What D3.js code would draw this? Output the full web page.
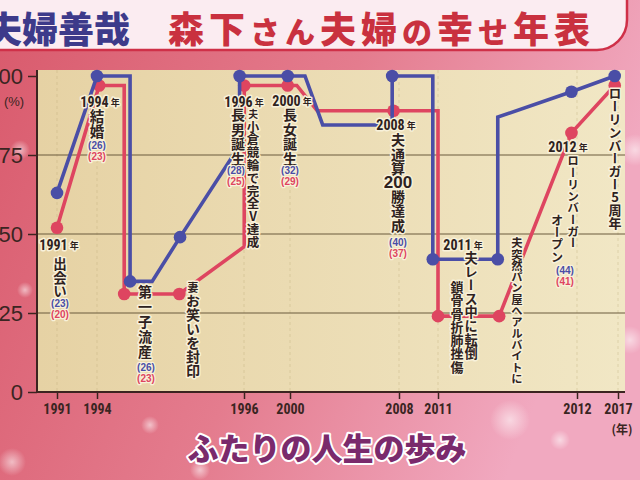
<!DOCTYPE html>
<html><head><meta charset="utf-8">
<script src="https://cdn.jsdelivr.net/npm/d3@7"></script>
<style>html,body{margin:0;padding:0;overflow:hidden;background:#e58a98}</style>
</head><body>
<script>
// ---------- data ----------
const yearTicks = [1991, 1994, 1996, 2000, 2008, 2011, 2012, 2017];
const yTicks = [0, 25, 50, 75, 100];

// 夫 (husband) line vertices: x in (fractional) years, y in %
const husbandX = [1991, 1994, 1994.45, 1994.45, 1994.75, 1995.13, 1995.94, 1995.94, 1999.8, 2001.1, 2002.4, 2007.5, 2007.5, 2010.6, 2010.6, 2011.43, 2011.43, 2011.96, 2016.6];
const husbandY = [63, 100, 100, 35, 35, 49, 78, 100, 100, 100, 84.5, 84.5, 100, 100, 42, 42, 87, 95, 100];
const husbandEvent = [1, 1, 0, 1, 0, 1, 0, 1, 1, 0, 0, 0, 1, 0, 1, 1, 0, 1, 1];

// 妻 (wife) line vertices
const wifeX = [1991, 1994.03, 1994.37, 1994.37, 1995.12, 1996.02, 1996.02, 1999.8, 2000.5, 2002.0, 2007.6, 2011.0, 2011.0, 2011.44, 2011.96, 2016.6];
const wifeY = [52, 97, 97, 31, 31, 46, 97, 97, 97, 89, 89, 89, 24, 24, 82, 97];
const wifeEvent = [1, 1, 0, 1, 1, 0, 1, 1, 0, 0, 1, 0, 1, 1, 1, 1];

const yearLabels = ["1991", "1994", "1996", "2000", "2008", "2011", "2012"];
const columnTexts = ["出会い", "結婚", "第一子流産", "妻お笑いを封印", "長男誕生", "夫小倉競輪で完全V達成", "長女誕生",
  "夫通算200勝達成", "夫レース中に転倒", "鎖骨骨折肺挫傷", "夫突然パン屋へアルバイトに", "ローリンバーガー", "オープン", "ローリンバーガー5周年"];
const husbandAges = ["(23)", "(26)", "(26)", "(28)", "(32)", "(40)", "(44)"];
const wifeAges = ["(20)", "(23)", "(23)", "(25)", "(29)", "(37)", "(41)"];

const titleLeft = "夫婦善哉";
const titleRight = ["森下", "さん", "夫婦", "の", "幸", "せ", "年表"];
const bottomTitle = "ふたりの人生の歩み";

// ---------- layout ----------
const yearLabelLayout = [
  {year: 1991, dx: 2, py: 245}, {year: 1994, dx: 3, py: 102}, {year: 1996, dx: 0, py: 102},
  {year: 2000, dx: 2, py: 101}, {year: 2008, dx: -3, py: 125}, {year: 2011, dx: 25, py: 245},
  {year: 2012, dx: -9, py: 147}];
const columnLayout = [
  {year: 1991, dx: 3, py: 264, step: 13.5, size: 13.5},
  {year: 1994, dx: 0, py: 116, step: 15, size: 14.5},
  {year: 1994, dx: 48, py: 292, step: 15, size: 14},
  {year: 1996, dx: -51, py: 287, step: 14, size: 14, smallFirst: true},
  {year: 1996, dx: -6, py: 115, step: 14.5, size: 14},
  {year: 1996, dx: 9, py: 114, step: 12.8, size: 12.5, smallFirst: true},
  {year: 2000, dx: 0, py: 115, step: 14.5, size: 14},
  {year: 2008, dx: -1, py: 140, step: 14.2, size: 14},
  {year: 2011, dx: 33, py: 258, step: 13.6, size: 13.2},
  {year: 2011, dx: 19, py: 287, step: 13.3, size: 13},
  {year: 2011, dx: 79, py: 243, step: 11.3, size: 11.3},
  {year: 2012, dx: -4, py: 161, step: 11.7, size: 11.7},
  {year: 2012, dx: -20, py: 220, step: 12.3, size: 12.2},
  {year: 2017, dx: -3, py: 93, step: 13, size: 13}];
const ageLayout = [
  {year: 1991, dx: 3, py: 303}, {year: 1994, dx: 0, py: 145}, {year: 1994, dx: 49, py: 367},
  {year: 1996, dx: -8, py: 170}, {year: 2000, dx: 0, py: 170}, {year: 2008, dx: -1, py: 242},
  {year: 2012, dx: -12, py: 270}];

const W = 640, H = 480;
const plotL = 37, plotR = 625, plotT = 70, plotB = 392;
const BLUE = "#4a4ea6", RED = "#de4560";
const JP = "'Noto Sans CJK JP','Noto Sans CJK SC',sans-serif";
const NUM = "'Liberation Sans Narrow','Roboto Condensed','Liberation Sans',sans-serif";
const HALO = "#f8f1da";

const svg = d3.select("body").append("svg").attr("width", W).attr("height", H);
const defs = svg.append("defs");

const bg = defs.append("linearGradient").attr("id", "bg").attr("x1", 0).attr("y1", 0).attr("x2", 1).attr("y2", 0.3);
bg.append("stop").attr("offset", 0).attr("stop-color", "#d95a6c");
bg.append("stop").attr("offset", 0.55).attr("stop-color", "#e47c8e");
bg.append("stop").attr("offset", 1).attr("stop-color", "#f1a9c0");
const pg = defs.append("linearGradient").attr("id", "pg").attr("x1", 0).attr("y1", 0).attr("x2", 1).attr("y2", 0);
pg.append("stop").attr("offset", 0).attr("stop-color", "#e6d2a4");
pg.append("stop").attr("offset", 1).attr("stop-color", "#f1e7c5");
const glow = defs.append("radialGradient").attr("id", "glow");
glow.append("stop").attr("offset", 0).attr("stop-color", "#fff").attr("stop-opacity", 0.55);
glow.append("stop").attr("offset", 1).attr("stop-color", "#fff").attr("stop-opacity", 0);

svg.append("rect").attr("width", W).attr("height", H).attr("fill", "url(#bg)");
// soft bokeh (decoration)
[[20, 150, 10], [25, 290, 8], [12, 462, 14], [150, 425, 9], [130, 30, 18], [300, 20, 14], [510, 420, 20], [560, 440, 10], [635, 150, 16], [630, 340, 14], [200, 470, 10]]
  .forEach(([cx, cy, r]) => svg.append("circle").attr("cx", cx).attr("cy", cy).attr("r", r).attr("fill", "url(#glow)"));

// ---------- title banner ----------
svg.append("rect").attr("x", -30).attr("y", -40).attr("width", 657).attr("height", 90).attr("rx", 30)
  .attr("fill", "#fbecf1").attr("stroke", "#cf3048").attr("stroke-width", 2.5);
svg.append("text").attr("x", -14).attr("y", 43).attr("font-family", JP).attr("font-weight", 900)
  .attr("font-size", 36).attr("fill", "#3d3a8a").text(titleLeft);
const tr = svg.append("text").attr("x", 168).attr("y", 43).attr("font-family", JP).attr("font-weight", 900)
  .attr("fill", "#c9313f").attr("letter-spacing", 5);
titleRight.forEach(s => tr.append("tspan").attr("font-size", /[ぁ-ん]/.test(s) ? 30 : 36).text(s));

// ---------- scales ----------
const x = d3.scaleLinear().domain(yearTicks).range([57, 97, 244, 290, 399, 438, 577, 618]);
const y = d3.scaleLinear().domain([0, 100]).range([plotB, 76]);

// plot area
svg.append("rect").attr("x", plotL).attr("y", plotT).attr("width", plotR - plotL).attr("height", plotB - plotT).attr("fill", "url(#pg)");
// faint vertical guides
svg.append("g").selectAll("line").data(yearTicks).join("line")
  .attr("x1", d => x(d)).attr("x2", d => x(d)).attr("y1", plotT).attr("y2", plotB)
  .attr("stroke", "#b8a574").attr("stroke-opacity", 0.35).attr("stroke-dasharray", "3,3");
// horizontal grid
svg.append("g").selectAll("line").data(yTicks.filter(d => d > 0 && d < 100)).join("line")
  .attr("x1", plotL).attr("x2", plotR).attr("y1", d => y(d)).attr("y2", d => y(d))
  .attr("stroke", "#6b5b3c").attr("stroke-width", 1);

// axes
const yAxis = svg.append("g").attr("transform", `translate(${plotL},0)`)
  .call(d3.axisLeft(y).tickValues(yTicks).tickSize(9).tickPadding(5));
yAxis.select(".domain").remove();
yAxis.selectAll("line").attr("stroke", "#3c2420").attr("stroke-width", 1.5);
yAxis.selectAll("text").attr("font-family", "'Liberation Sans',Arial,sans-serif").attr("font-size", 22)
  .attr("fill", "#3a2522").attr("font-weight", 500);
svg.append("text").attr("x", 14).attr("y", 101).attr("text-anchor", "middle").attr("dominant-baseline", "central")
  .attr("font-family", "'Liberation Sans',sans-serif").attr("font-size", 13).attr("fill", "#3a2522").text("(%)");

const xAxis = svg.append("g").attr("transform", `translate(0,${plotB})`)
  .call(d3.axisBottom(x).tickValues(yearTicks).tickFormat(d3.format("d")).tickSize(7).tickPadding(5));
xAxis.select(".domain").remove();
xAxis.selectAll("line").attr("stroke", "#3c2420").attr("stroke-width", 1.5);
xAxis.selectAll("text").attr("font-family", NUM).attr("font-size", 14).attr("font-weight", 700)
  .attr("fill", "#3a2522").attr("font-stretch", "condensed");
svg.append("text").attr("x", 622).attr("y", 428).attr("text-anchor", "middle").attr("dominant-baseline", "central")
  .attr("font-family", JP).attr("font-size", 12).attr("font-weight", 700).attr("fill", "#3a2522").text("(年)");

// axis lines
svg.append("line").attr("x1", plotL).attr("x2", plotL).attr("y1", plotT).attr("y2", plotB + 1).attr("stroke", "#3c2420").attr("stroke-width", 2);
svg.append("line").attr("x1", plotL).attr("x2", plotR).attr("y1", plotB).attr("y2", plotB).attr("stroke", "#3c2420").attr("stroke-width", 2);

// ---------- series ----------
const husband = husbandX.map((v, i) => ({x: v, y: husbandY[i], e: husbandEvent[i]}));
const wife = wifeX.map((v, i) => ({x: v, y: wifeY[i], e: wifeEvent[i]}));
const line = d3.line().x(d => x(d.x)).y(d => y(d.y));

[[wife, RED], [husband, BLUE]].forEach(([data, col]) => {
  svg.append("path").datum(data).attr("d", line).attr("fill", "none").attr("stroke", col)
    .attr("stroke-width", 3.6).attr("stroke-linejoin", "miter");
  svg.append("g").selectAll("circle").data(data.filter(d => d.e)).join("circle")
    .attr("cx", d => x(d.x)).attr("cy", d => y(d.y)).attr("r", 6.3).attr("fill", col);
});

// ---------- annotations ----------
const ann = svg.append("g");
function halo(sel, w = 3) {
  return sel.attr("stroke", HALO).attr("stroke-width", w).attr("stroke-linejoin", "round").attr("paint-order", "stroke");
}
// year labels
yearLabelLayout.forEach((L, i) => {
  const t = ann.append("text").attr("x", x(L.year) + L.dx).attr("y", L.py)
    .attr("text-anchor", "middle").attr("dominant-baseline", "central").attr("fill", "#2e2220");
  halo(t);
  t.append("tspan").attr("font-family", NUM).attr("font-weight", 700).attr("font-size", 14)
    .attr("font-stretch", "condensed").text(yearLabels[i]);
  t.append("tspan").attr("font-family", JP).attr("font-weight", 700).attr("font-size", 9).attr("dx", 2).text("年");
});
// vertical (tategaki) columns
columnLayout.forEach((L, i) => {
  let chars = Array.from(columnTexts[i]);
  const cx = x(L.year) + L.dx;
  let yc = L.py;  // centre of current character cell
  if (L.smallFirst) {
    halo(ann.append("text").attr("x", cx).attr("y", yc).attr("text-anchor", "middle").attr("dominant-baseline", "central")
      .attr("font-family", JP).attr("font-weight", 700).attr("font-size", L.size * 0.78).attr("fill", "#2e2220").text(chars[0]));
    chars = chars.slice(1);
    yc += L.step;
  }
  const segs = chars.join("").match(/\d{2,}|(?:(?!\d{2})[\s\S])+/gu);
  segs.forEach(seg => {
    if (/^\d{2,}$/.test(seg)) {
      halo(ann.append("text").attr("x", cx).attr("y", yc).attr("text-anchor", "middle").attr("dominant-baseline", "central")
        .attr("font-family", "'Liberation Sans',sans-serif").attr("font-weight", 700).attr("font-size", L.size + 3)
        .attr("fill", "#2e2220").text(seg));
      yc += L.step;
    } else {
      const n = Array.from(seg).length;
      halo(ann.append("text").attr("x", cx).attr("y", yc - L.size / 2)
        .attr("style", `writing-mode:vertical-rl;text-orientation:upright;letter-spacing:${(L.step - L.size).toFixed(2)}px`)
        .attr("font-family", JP).attr("font-weight", 700).attr("font-size", L.size).attr("fill", "#2e2220").text(seg));
      yc += n * L.step;
    }
  });
});
// ages
ageLayout.forEach((L, i) => {
  [[husbandAges[i], BLUE, 0], [wifeAges[i], RED, 11.5]].forEach(([s, col, off]) => {
    halo(ann.append("text").attr("x", x(L.year) + L.dx).attr("y", L.py + off).attr("text-anchor", "middle")
      .attr("dominant-baseline", "central").attr("font-family", "'Liberation Sans',sans-serif").attr("font-weight", 700)
      .attr("font-size", 10).attr("fill", col).text(s), 2.5);
  });
});

// bottom title
svg.append("text").attr("x", 327).attr("y", 446).attr("text-anchor", "middle").attr("dominant-baseline", "central")
  .attr("font-family", JP).attr("font-weight", 900).attr("font-size", 31).attr("fill", "#7a2a6c")
  .attr("stroke", "#fff").attr("stroke-width", 4).attr("stroke-linejoin", "round").attr("paint-order", "stroke")
  .text(bottomTitle);
</script>
</body></html>
